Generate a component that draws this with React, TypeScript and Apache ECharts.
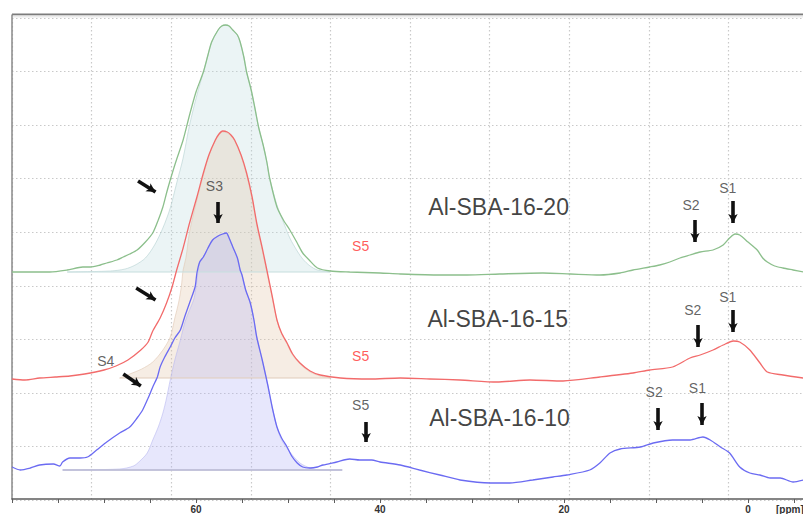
import React, { useEffect, useRef } from "react";
import * as echarts from "echarts";

// 27Al MAS NMR spectra, [chemical shift (ppm), intensity (a.u., offset per sample)]
const spectrumSBA20: number[][] = [
  [80.0, 227], [78.0, 227], [75.9, 227], [74.0, 229], [72.3, 232], [71.5, 232], [70.4, 234],
  [69.7, 236], [68.6, 239], [67.9, 242], [67.2, 245], [66.4, 249], [65.5, 257], [64.7, 266],
  [64.1, 279], [63.6, 292], [63.2, 306], [62.8, 319], [62.2, 337], [61.4, 359], [60.7, 384],
  [60.0, 407], [59.2, 427], [58.7, 444], [58.3, 457], [57.6, 469], [57.2, 473], [56.8, 474],
  [56.4, 473], [56.0, 469], [55.5, 464], [55.2, 457], [54.8, 442], [54.5, 427], [54.0, 409],
  [53.6, 391], [53.2, 372], [52.7, 354], [52.3, 337], [52.0, 321], [51.2, 292], [50.5, 279],
  [49.8, 269], [49.0, 256], [48.4, 246], [47.6, 238], [46.8, 231], [45.4, 228], [43.3, 227],
  [40.0, 226], [37.8, 225], [33.5, 224], [30.5, 224], [27.0, 225], [22.3, 226], [19.3, 225],
  [16.1, 224], [13.9, 226], [12.5, 229], [10.7, 232], [9.6, 234], [8.5, 237], [7.4, 241],
  [6.3, 244], [5.2, 247], [3.8, 249], [2.7, 254], [2.0, 261], [1.4, 265], [0.9, 264],
  [0.0, 257], [-1.0, 249], [-1.6, 241], [-2.1, 237], [-2.9, 233], [-3.8, 231], [-4.9, 229],
  [-6.0, 227],
];

const spectrumSBA15: number[][] = [
  [80.0, 120], [78.6, 119], [77.0, 121], [75.3, 122], [73.7, 123], [72.1, 125], [70.0, 129],
  [68.7, 133], [67.4, 139], [66.0, 149], [65.2, 157], [64.7, 168], [63.9, 181], [63.2, 196],
  [62.6, 212], [62.1, 229], [61.4, 251], [60.7, 276], [59.9, 302], [59.2, 326], [58.6, 344],
  [57.9, 359], [57.5, 365], [57.1, 368], [56.6, 367], [56.2, 364], [55.8, 359], [55.1, 344],
  [54.5, 326], [53.9, 302], [53.4, 276], [52.8, 251], [52.3, 229], [51.7, 202], [51.2, 179],
  [50.7, 166], [50.1, 156], [49.5, 145], [48.7, 136], [47.6, 128], [46.5, 124], [44.3, 121],
  [41.1, 120], [37.8, 121], [34.6, 120], [31.3, 119], [27.3, 117], [23.7, 119], [20.1, 118],
  [16.1, 122], [12.5, 126], [10.7, 129], [8.2, 132], [6.3, 141], [5.2, 144], [3.8, 149],
  [2.7, 154], [1.6, 158], [0.9, 157], [-0.2, 149], [-1.3, 136], [-2.1, 127], [-3.8, 124],
  [-6.0, 121],
];

const spectrumSBA10: number[][] = [
  [80.0, 32], [79.1, 29], [78.0, 31], [77.0, 34], [75.5, 35], [74.8, 33], [74.5, 37],
  [73.7, 41], [72.6, 41], [71.8, 42], [70.8, 49], [69.7, 57], [68.3, 66], [67.2, 72],
  [66.4, 81], [65.8, 89], [65.2, 101], [64.7, 112], [64.2, 122], [63.9, 132], [63.4, 142],
  [62.8, 152], [62.3, 161], [61.7, 169], [61.2, 183], [60.7, 196], [60.1, 212], [59.9, 226],
  [59.6, 237], [59.2, 242], [58.7, 251], [58.2, 259], [57.6, 263], [57.1, 265], [56.7, 266],
  [56.4, 261], [56.0, 252], [55.5, 241], [55.2, 229], [55.0, 224], [54.6, 209], [54.1, 196],
  [53.7, 179], [53.4, 162], [52.8, 139], [52.2, 114], [51.7, 91], [51.2, 72], [50.7, 61],
  [50.1, 52], [49.6, 43], [49.0, 36], [48.4, 32], [47.6, 31], [46.8, 32], [46.2, 34],
  [44.7, 37], [43.3, 40], [42.2, 39], [40.9, 39], [40.0, 37], [37.8, 34], [35.7, 29],
  [33.5, 24], [31.3, 19], [28.0, 16], [25.9, 16], [23.4, 19], [21.2, 22], [19.7, 24],
  [17.2, 29], [16.1, 36], [15.0, 46], [13.9, 50], [11.7, 52], [10.3, 56], [8.2, 59],
  [6.3, 59], [4.9, 62], [4.1, 59], [3.0, 52], [2.0, 46], [0.9, 32], [-0.2, 26], [-1.3, 24],
  [-2.4, 21], [-3.5, 21], [-4.9, 17], [-6.0, 19],
];

// Fitted S3 components (tetrahedral Al), shaded down to each sample's baseline
const fitSBA20: number[][] = [
  [74.0, 227], [69.3, 228], [67.7, 230], [66.6, 234], [65.5, 241], [64.5, 254], [63.6, 271],
  [62.8, 291], [62.1, 316], [61.4, 341], [60.7, 374], [59.9, 404], [59.2, 427], [58.7, 444],
  [58.3, 457], [57.6, 469], [57.2, 473], [56.8, 474], [56.4, 473], [56.0, 469], [55.5, 464],
  [55.2, 457], [54.8, 442], [54.5, 427], [54.0, 409], [53.6, 391], [53.2, 372], [52.7, 354],
  [52.3, 337], [52.0, 321], [51.2, 294], [50.5, 277], [49.8, 261], [49.0, 248], [48.4, 240],
  [47.6, 233], [46.8, 229], [45.4, 227],
];

const fitSBA15: number[][] = [
  [68.3, 121], [67.2, 125], [65.9, 130], [64.7, 137], [63.6, 149], [62.8, 162], [62.3, 181],
  [61.9, 196], [61.6, 212], [61.4, 229], [61.1, 241], [60.7, 267], [59.9, 299], [59.2, 324],
  [58.6, 343], [57.9, 358], [57.5, 364], [57.1, 367], [56.6, 366], [56.2, 363], [55.8, 358],
  [55.1, 343], [54.5, 324], [53.9, 300], [53.4, 274], [52.8, 249], [52.3, 227], [51.7, 201],
  [51.2, 179], [50.7, 165], [50.1, 155], [49.5, 144], [48.7, 135], [47.6, 127], [46.5, 123],
  [45.4, 121],
];

const fitSBA10: number[][] = [
  [74.5, 29], [68.3, 30], [66.8, 33], [66.1, 38], [65.3, 46], [64.7, 59], [64.1, 72],
  [63.6, 86], [63.2, 101], [62.8, 119], [62.3, 139], [61.7, 159], [61.2, 177], [60.7, 189],
  [60.2, 201], [59.9, 219], [59.6, 237], [59.2, 242], [58.7, 251], [58.2, 259], [57.6, 263],
  [57.1, 265], [56.7, 266], [56.4, 261], [56.0, 252], [55.5, 241], [55.2, 229], [55.0, 224],
  [54.6, 209], [54.1, 196], [53.7, 179], [53.4, 162], [52.8, 139], [52.2, 114], [51.7, 91],
  [51.2, 72], [50.7, 59], [49.8, 47], [48.7, 36], [47.6, 31], [46.5, 29], [44.1, 29],
];

// Baselines of the fitted components [start, end]
const fitBaseSBA20: number[][] = [[74.0, 227], [45.4, 227]];
const fitBaseSBA15: number[][] = [[68.3, 121], [45.4, 121]];
const fitBaseSBA10: number[][] = [[74.5, 29], [44.1, 29]];

// Labelled shift values on the axis
const shiftTickLabels: number[] = [60, 40, 20, 0];

// Sample names [ppm, intensity] (left edge of the text)
const sampleNames: { text: string; at: number[] }[] = [
  { text: "Al-SBA-16-20", at: [34.8, 292] },
  { text: "Al-SBA-16-15", at: [34.9, 180] },
  { text: "Al-SBA-16-10", at: [34.7, 81] },
];

// Site labels (centred)
const siteLabels: { text: string; at: number[]; color: string }[] = [
  { text: "S2", at: [6.2, 294], color: "#3a3a3a" },
  { text: "S1", at: [2.2, 311], color: "#3a3a3a" },
  { text: "S2", at: [6.0, 189], color: "#3a3a3a" },
  { text: "S1", at: [2.2, 202], color: "#3a3a3a" },
  { text: "S2", at: [10.2, 107], color: "#3a3a3a" },
  { text: "S1", at: [5.5, 111], color: "#3a3a3a" },
  { text: "S3", at: [58.0, 313], color: "#3a3a3a" },
  { text: "S4", at: [69.8, 138], color: "#3a3a3a" },
  { text: "S5", at: [42.1, 253], color: "#ff3030" },
  { text: "S5", at: [42.1, 143], color: "#ff3030" },
  { text: "S5", at: [42.1, 94], color: "#3a3a3a" },
];

// Arrows: [tail, head] in [ppm, intensity]
const arrows: number[][][] = [
  [[5.76, 279], [5.76, 257]],
  [[1.63, 298], [1.63, 276]],
  [[5.43, 174], [5.43, 152]],
  [[1.63, 189], [1.63, 167]],
  [[9.78, 91], [9.78, 69]],
  [[5.0, 96], [5.0, 74]],
  [[57.6, 297], [57.6, 276]],
  [[41.5, 77], [41.5, 57]],
  [[66.3, 318], [64.4, 307]],
  [[66.5, 211], [64.4, 199]],
  [[67.9, 125], [66.0, 113]],
];

const FONT = "'Liberation Sans', Arial, sans-serif";

export default function App() {
  const ref = useRef<HTMLDivElement>(null);

  useEffect(() => {
    if (!ref.current) return;
    const chart = echarts.init(ref.current, undefined, { renderer: "svg" });

    const spectrumLine = (name: string, data: number[][], color: string) => ({
      name,
      type: "line",
      data,
      showSymbol: false,
      symbol: "none",
      smooth: 0.25,
      lineStyle: { color, width: 1.3 },
      z: 5,
    });

    const fitArea = (
      name: string,
      data: number[][],
      base: number,
      fill: string,
      edge: string
    ) => ({
      name,
      type: "line",
      data,
      symbol: "none",
      smooth: 0.3,
      lineStyle: { color: edge, width: 1 },
      areaStyle: { color: fill, origin: base, opacity: 1 },
      z: 2,
    });

    const baseLine = (name: string, data: number[][], color: string, width: number) => ({
      name,
      type: "line",
      data,
      symbol: "none",
      lineStyle: { color, width },
      z: 3,
    });

    chart.setOption({
      animation: false,
      backgroundColor: "#ffffff",
      textStyle: { fontFamily: FONT },
      grid: [
        { left: 12, top: 15, width: 828, height: 484, containLabel: false, outerBoundsMode: "none" },
        { left: 12, top: 18, width: 796, height: 482, containLabel: false, outerBoundsMode: "none" },
      ],
      xAxis: [
        {
          type: "value",
          gridIndex: 0,
          inverse: true,
          min: -10,
          max: 80,
          interval: 5,
          axisLine: { show: true, onZero: false, lineStyle: { color: "#5c5c5c", width: 1.5 } },
          axisTick: { show: true, inside: false, length: 4, lineStyle: { color: "#5c5c5c", width: 1 } },
          axisLabel: {
            show: true,
            margin: 5,
            fontSize: 10,
            fontWeight: "bold",
            color: "#333",
            fontFamily: FONT,
            formatter: (v: number) => (shiftTickLabels.includes(v) ? String(v) : ""),
          },
          splitLine: { show: false },
        },
        {
          type: "value",
          gridIndex: 1,
          min: 0,
          max: 10,
          interval: 1,
          axisLine: { show: false },
          axisTick: { show: false },
          axisLabel: { show: false },
          splitLine: { show: true, lineStyle: { color: "#c9c9c9", width: 1.2, type: [1.5, 2.5] } },
        },
      ],
      yAxis: [
        {
          type: "value",
          gridIndex: 0,
          min: 0,
          max: 484,
          axisLine: { show: true, onZero: false, lineStyle: { color: "#8a8a8a", width: 1.5 } },
          axisTick: { show: false },
          axisLabel: { show: false },
          splitLine: { show: false },
        },
        {
          type: "value",
          gridIndex: 1,
          min: 0,
          max: 9,
          interval: 1,
          axisLine: { show: false },
          axisTick: { show: false },
          axisLabel: { show: false },
          splitLine: { show: true, lineStyle: { color: "#c9c9c9", width: 1.2, type: [1.5, 2.5] } },
        },
      ],
      series: [
        fitArea("fit-20", fitSBA20, 227, "rgba(190,220,222,0.30)", "rgba(175,205,205,0.55)"),
        fitArea("fit-15", fitSBA15, 121, "rgba(226,196,166,0.30)", "rgba(225,200,180,0.6)"),
        fitArea("fit-10", fitSBA10, 29, "rgba(180,180,245,0.32)", "rgba(185,185,240,0.6)"),
        baseLine("base-20", fitBaseSBA20, "rgba(200,222,222,0.7)", 1.5),
        baseLine("base-15", fitBaseSBA15, "rgba(225,205,190,0.7)", 1.5),
        baseLine("base-10", fitBaseSBA10, "rgba(190,190,215,0.9)", 2),
        spectrumLine("Al-SBA-16-20", spectrumSBA20, "#8cbf8c"),
        spectrumLine("Al-SBA-16-15", spectrumSBA15, "#f26b6b"),
        spectrumLine("Al-SBA-16-10", spectrumSBA10, "#6b6bf2"),
        {
          name: "annotations",
          type: "scatter",
          symbolSize: 1,
          itemStyle: { color: "rgba(0,0,0,0)" },
          silent: true,
          z: 10,
          data: [
            ...sampleNames.map((s) => ({
              value: s.at,
              label: {
                show: true,
                position: "right",
                distance: 0,
                formatter: s.text,
                fontSize: 23,
                color: "#111",
                fontFamily: FONT,
              },
            })),
            ...siteLabels.map((s) => ({
              value: s.at,
              label: {
                show: true,
                position: "inside",
                formatter: s.text,
                fontSize: 14,
                color: s.color,
                fontFamily: FONT,
              },
            })),
          ],
          markLine: {
            silent: true,
            animation: false,
            symbol: ["none", "arrow"],
            symbolSize: [7, 9],
            label: { show: false },
            lineStyle: { color: "#111", width: 3.6, type: "solid" },
            data: arrows.map((a) => [{ coord: a[0] }, { coord: a[1] }]),
          },
        },
      ],
      graphic: [
        {
          type: "line",
          shape: { x1: 12, y1: 14.5, x2: 803, y2: 14.5 },
          style: { stroke: "#7c7c7c", lineWidth: 2 },
          silent: true,
        },
        {
          type: "rect",
          shape: { x: 13, y: 15.5, width: 790, height: 2 },
          style: { fill: "#ececec" },
          silent: true,
        },
        {
          type: "text",
          x: 776,
          y: 509,
          style: {
            text: "[ppm]",
            fontSize: 10,
            fontWeight: "bold",
            fill: "#333",
            fontFamily: FONT,
            verticalAlign: "middle",
          },
          silent: true,
        },
      ],
    });

    return () => chart.dispose();
  }, []);

  return (
    <div
      ref={ref}
      style={{ position: "absolute", left: 0, top: 0, width: 803, height: 514 }}
    />
  );
}
